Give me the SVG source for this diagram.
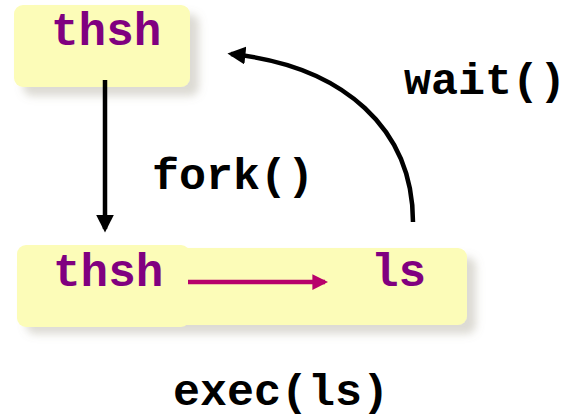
<svg xmlns="http://www.w3.org/2000/svg" width="571" height="418" viewBox="0 0 571 418">
  <defs>
    <filter id="shadow" x="-10%" y="-20%" width="130%" height="150%">
      <feDropShadow dx="9" dy="9" stdDeviation="4" flood-color="#8a8470" flood-opacity="0.3"/>
    </filter>
    <marker id="headBlack" viewBox="0 0 10 10" refX="8" refY="5" markerWidth="4" markerHeight="4" orient="auto" markerUnits="strokeWidth">
      <path d="M0,0 L10,5 L0,10 z" fill="#000"/>
    </marker>
    <marker id="headMagenta" viewBox="0 0 10 10" refX="8" refY="5" markerWidth="3.5" markerHeight="3.5" orient="auto" markerUnits="strokeWidth">
      <path d="M0,0 L10,5 L0,10 z" fill="#b8006b"/>
    </marker>
    <style>
      .box { fill: #fcfcb8; filter: url(#shadow); }
      .proc { font-family: "Liberation Mono", "DejaVu Sans Mono", monospace; font-weight: bold; font-size: 46px; fill: #800080; }
      .call { font-family: "Liberation Mono", "DejaVu Sans Mono", monospace; font-weight: bold; font-size: 45px; fill: #000; }
      .edge { fill: none; stroke: #000; stroke-width: 4.5; }
    </style>
  </defs>

  <g id="parent">
    <rect class="box" x="14" y="5" width="176" height="82" rx="9"/>
    <text class="proc" x="51" y="45">thsh</text>
  </g>

  <g id="child">
    <rect class="box" x="17" y="248" width="450" height="77" rx="9"/>
    <rect x="17" y="245" width="173" height="82" rx="9" fill="#fcfcb8"/>
    <text class="proc" x="53" y="286">thsh</text>
    <text class="proc" x="371" y="286">ls</text>
  </g>

  <g id="connectors">
    <line class="edge" x1="105" y1="80" x2="105" y2="229" marker-end="url(#headBlack)"/>
    <path class="edge" d="M413,222 C413,130 345,66 231,54" marker-end="url(#headBlack)"/>
    <line x1="188" y1="282" x2="325" y2="282" stroke="#b8006b" stroke-width="4.5" marker-end="url(#headMagenta)"/>
  </g>

  <g id="labels">
    <text class="call" x="152" y="189">fork()</text>
    <text class="call" x="404" y="94">wait()</text>
    <text class="call" x="173" y="405">exec(ls)</text>
  </g>
</svg>
